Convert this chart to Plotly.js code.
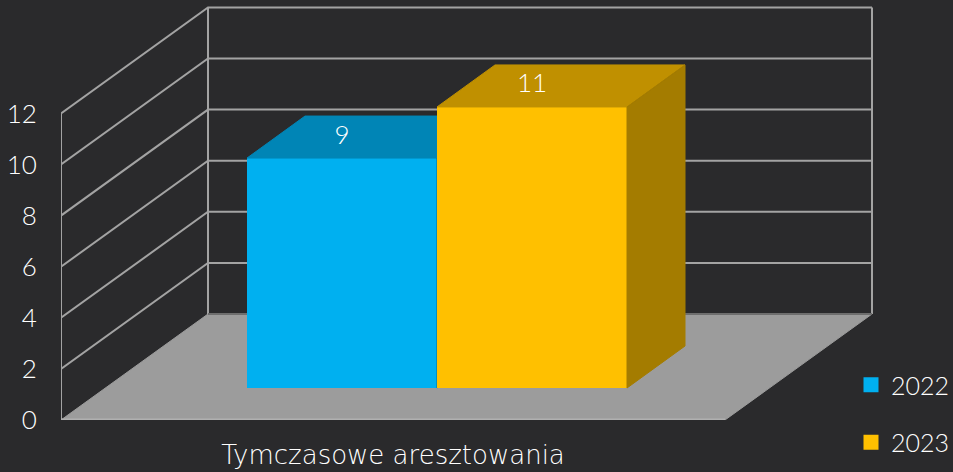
<!DOCTYPE html>
<html><head><meta charset="utf-8">
<script src="https://cdn.plot.ly/plotly-3.0.1.min.js"></script>
<style>html,body{margin:0;padding:0;background:#2a2a2c}#c{width:953px;height:472px}</style>
</head><body><div id="c"></div>
<script>
// data
var category = "Tymczasowe aresztowania";
var seriesNames = ["2022", "2023"];
var values2022 = [9];
var values2023 = [11];
var yTicks = [0, 2, 4, 6, 8, 10, 12];

// styles
var FONT = "Lato, sans-serif";
var TEXT = "#ffffff";
var GRID = "#a3a3a3";
var BG = "#2a2a2c";

// plot scale: pixels per data unit
var PX = 664, PY = 25.55;
var W = 953, H = 472, ML = 61, MB = 52;
var xRange = [-0.5, -0.5 + (W - ML) / PX];
var yRange = [0, (H - MB) / PY];
// oblique depth of the walls, of the bar plane and of the bars
var wallDx = 147 / PX, wallDy = 106 / PY;
var barBase = 32 / PY;
var barDx = 58 / PX, barDy = 42 / PY;
var lw = 3; // legend swatch enlargement
var barW = 190 / PX;
var off22 = (247 - 393) / PX, off23 = (437 - 393) / PX;

var x0 = -0.5, x1 = 0.5;
var maxT = yTicks[yTicks.length - 1];

function wallLines() {
  var xs = [], ys = [];
  yTicks.forEach(function (v) {
    if (v === 0) return;
    xs.push(x0, x0 + wallDx, x1 + wallDx, null);
    ys.push(v, v + wallDy, v + wallDy, null);
  });
  // uprights
  xs.push(x0, x0, null, x0 + wallDx, x0 + wallDx, null, x1 + wallDx, x1 + wallDx, null);
  ys.push(0, maxT, null, wallDy, maxT + wallDy, null, wallDy, maxT + wallDy, null);
  return { x: xs, y: ys };
}
function poly(color, xs, ys, ax) {
  return { type: "scatter", mode: "lines", x: xs, y: ys, fill: "toself", fillcolor: color,
    line: { color: color, width: 1 }, hoverinfo: "skip", showlegend: false, xaxis: ax[0], yaxis: ax[1] };
}
function barTraces(name, values, off, front, top, side, ax, group) {
  var l = off, r = off + barW, v = values[0] + barBase;
  return [
    { type: "bar", name: name, x: [0], y: [values[0] - lw / PY], base: [barBase + lw / 2 / PY],
      offset: off + lw / 2 / PX, width: barW - lw / PX, legendgroup: group,
      marker: { color: front, line: { color: front, width: lw } }, xaxis: ax[0], yaxis: ax[1] },
    poly(top, [l, l + barDx, r + barDx, r, l], [v, v + barDy, v + barDy, v, v], ax),
    poly(side, [r, r + barDx, r + barDx, r, r], [v, v + barDy, barBase + barDy, barBase, v], ax),
    { type: "scatter", mode: "text", x: [off + barW / 2], y: [v + barDy / 2], text: [String(values[0])],
      textposition: "middle center", textfont: { family: FONT, size: 26, color: TEXT, weight: 300 },
      hoverinfo: "skip", showlegend: false, cliponaxis: false, xaxis: ax[0], yaxis: ax[1] }
  ];
}

var wl = wallLines();
var traces = [
  poly("#9c9c9c", [x0, x0 + wallDx, x1 + wallDx, x1, x0], [0, wallDy, wallDy, 0, 0], ["x", "y"]),
  { type: "scatter", mode: "lines", x: wl.x, y: wl.y, line: { color: GRID, width: 2 },
    hoverinfo: "skip", showlegend: false, connectgaps: false },
  { type: "scatter", mode: "lines", x: [x0 + wallDx, x1 + wallDx], y: [wallDy, wallDy], line: { color: "#6e6e6e", width: 2 },
    hoverinfo: "skip", showlegend: false },
  { type: "scatter", mode: "lines", x: [x0, x1], y: [0, 0], line: { color: "#b0b0b0", width: 3 },
    hoverinfo: "skip", showlegend: false }
]
.concat(barTraces(seriesNames[0], values2022, off22, "#00b0f0", "#0085b6", "#006f98", ["x2", "y2"], "a"))
.concat(barTraces(seriesNames[1], values2023, off23, "#ffc000", "#c09000", "#a47c00", ["x3", "y3"], "b"));

var hidden = function (range, over) {
  return { range: range, overlaying: over, visible: false, fixedrange: true };
};
var layout = {
  width: W, height: H,
  margin: { l: ML, r: 0, t: 0, b: MB, autoexpand: false },
  paper_bgcolor: BG, plot_bgcolor: BG,
  barmode: "overlay",
  font: { family: FONT, color: TEXT, size: 26, weight: 300 },
  showlegend: true,
  legend: { x: (851 - ML) / (W - ML), xanchor: "left", y: (H - 370 - 44) / (H - MB), yanchor: "top",
    bgcolor: "rgba(0,0,0,0)", traceorder: "grouped", tracegroupgap: 22, itemwidth: 30,
    font: { family: FONT, size: 25, color: TEXT, weight: 300 } },
  xaxis: { type: "linear", range: xRange, tickmode: "array", tickvals: [0], ticktext: [category],
    showgrid: false, zeroline: false, showline: false, ticks: "outside", ticklen: 12, tickcolor: "rgba(0,0,0,0)",
    tickfont: { family: "'DejaVu Sans', sans-serif", size: 26, color: TEXT, weight: 200 }, fixedrange: true },
  yaxis: { type: "linear", range: yRange, tickmode: "array", tickvals: yTicks, ticktext: yTicks.map(String),
    showgrid: false, zeroline: false, showline: false, ticks: "outside", ticklen: 18, tickcolor: "rgba(0,0,0,0)",
    tickfont: { family: FONT, size: 26, color: TEXT, weight: 300 }, fixedrange: true },
  xaxis2: hidden(xRange, "x"), yaxis2: hidden(yRange, "y"),
  xaxis3: hidden(xRange, "x"), yaxis3: hidden(yRange, "y")
};
Plotly.newPlot("c", traces, layout, { displayModeBar: false, staticPlot: true });
</script></body></html>
